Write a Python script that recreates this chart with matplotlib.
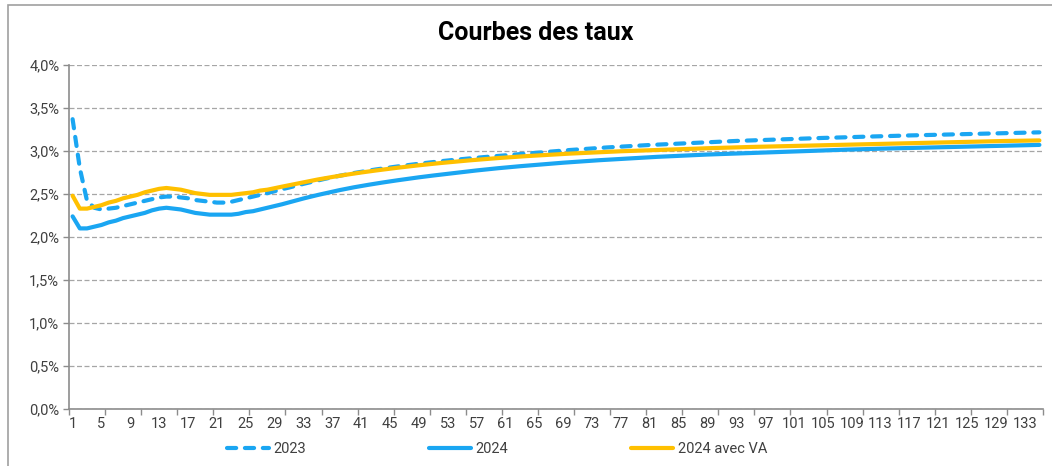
import matplotlib
matplotlib.use("Agg")
import matplotlib.pyplot as plt
from matplotlib.patches import Rectangle
from matplotlib.ticker import FuncFormatter, FixedLocator

plt.rcParams['font.family'] = ['Roboto', 'DejaVu Sans']

title = "Courbes des taux"
series_names = ["2023", "2024", "2024 avec VA"]

maturities = list(range(1, 136))

taux_2023 = [
    3.37, 2.80, 2.42, 2.34, 2.32, 2.33, 2.34, 2.36, 2.38, 2.40,
    2.42, 2.44, 2.46, 2.47, 2.47, 2.46, 2.45, 2.43, 2.42, 2.41,
    2.40, 2.40, 2.41, 2.43, 2.45, 2.47, 2.49, 2.51, 2.533, 2.555,
    2.575, 2.597, 2.618, 2.638, 2.658, 2.677, 2.695, 2.712, 2.728, 2.744,
    2.758, 2.772, 2.785, 2.797, 2.809, 2.820, 2.831, 2.842, 2.852, 2.862,
    2.872, 2.881, 2.890, 2.898, 2.906, 2.914, 2.921, 2.929, 2.936, 2.943,
    2.950, 2.957, 2.964, 2.971, 2.978, 2.985, 2.992, 2.999, 3.006, 3.012,
    3.018, 3.024, 3.030, 3.036, 3.041, 3.046, 3.051, 3.056, 3.061, 3.066,
    3.070, 3.074, 3.078, 3.082, 3.086, 3.090, 3.094, 3.098, 3.102, 3.106,
    3.110, 3.114, 3.117, 3.120, 3.123, 3.126, 3.129, 3.132, 3.135, 3.138,
    3.141, 3.144, 3.147, 3.149, 3.152, 3.154, 3.157, 3.159, 3.162, 3.164,
    3.167, 3.169, 3.172, 3.174, 3.176, 3.179, 3.181, 3.183, 3.185, 3.187,
    3.189, 3.191, 3.193, 3.195, 3.197, 3.199, 3.201, 3.203, 3.205, 3.207,
    3.209, 3.211, 3.213, 3.215, 3.217,
]

taux_2024 = [
    2.24, 2.10, 2.10, 2.12, 2.14, 2.17, 2.19, 2.22, 2.24, 2.26,
    2.28, 2.31, 2.33, 2.34, 2.33, 2.32, 2.30, 2.28, 2.27, 2.26,
    2.26, 2.26, 2.26, 2.27, 2.29, 2.30, 2.32, 2.34, 2.36, 2.380,
    2.403, 2.426, 2.448, 2.469, 2.489, 2.508, 2.527, 2.545, 2.562, 2.578,
    2.593, 2.607, 2.621, 2.634, 2.647, 2.659, 2.671, 2.683, 2.694, 2.705,
    2.715, 2.725, 2.735, 2.745, 2.755, 2.765, 2.774, 2.783, 2.792, 2.800,
    2.808, 2.816, 2.823, 2.830, 2.837, 2.844, 2.851, 2.858, 2.864, 2.870,
    2.876, 2.882, 2.888, 2.893, 2.898, 2.903, 2.908, 2.913, 2.918, 2.923,
    2.928, 2.932, 2.936, 2.940, 2.944, 2.948, 2.952, 2.956, 2.959, 2.962,
    2.965, 2.968, 2.971, 2.974, 2.977, 2.980, 2.983, 2.986, 2.989, 2.992,
    2.995, 2.998, 3.001, 3.004, 3.007, 3.010, 3.012, 3.015, 3.017, 3.020,
    3.022, 3.025, 3.027, 3.029, 3.031, 3.033, 3.035, 3.037, 3.039, 3.041,
    3.043, 3.045, 3.047, 3.049, 3.051, 3.053, 3.055, 3.057, 3.059, 3.061,
    3.063, 3.065, 3.067, 3.069, 3.071,
]

taux_2024_va = [
    2.48, 2.33, 2.33, 2.35, 2.37, 2.40, 2.42, 2.45, 2.47, 2.49,
    2.52, 2.54, 2.56, 2.57, 2.56, 2.55, 2.53, 2.51, 2.50, 2.49,
    2.49, 2.49, 2.49, 2.50, 2.51, 2.52, 2.54, 2.55, 2.568, 2.585,
    2.602, 2.620, 2.637, 2.653, 2.669, 2.684, 2.698, 2.712, 2.725, 2.738,
    2.750, 2.762, 2.773, 2.784, 2.795, 2.805, 2.815, 2.825, 2.834, 2.843,
    2.852, 2.860, 2.868, 2.876, 2.884, 2.891, 2.898, 2.905, 2.912, 2.918,
    2.924, 2.930, 2.936, 2.941, 2.946, 2.951, 2.956, 2.961, 2.966, 2.970,
    2.974, 2.978, 2.982, 2.986, 2.990, 2.994, 2.997, 3.000, 3.003, 3.006,
    3.009, 3.012, 3.015, 3.018, 3.021, 3.024, 3.027, 3.030, 3.032, 3.035,
    3.037, 3.040, 3.042, 3.045, 3.047, 3.049, 3.051, 3.053, 3.055, 3.057,
    3.059, 3.061, 3.063, 3.065, 3.067, 3.069, 3.071, 3.073, 3.075, 3.077,
    3.079, 3.081, 3.083, 3.085, 3.087, 3.089, 3.091, 3.093, 3.095, 3.097,
    3.099, 3.101, 3.103, 3.105, 3.107, 3.109, 3.111, 3.113, 3.114, 3.116,
    3.117, 3.119, 3.120, 3.122, 3.123,
]

y_ticks = [0.0, 0.5, 1.0, 1.5, 2.0, 2.5, 3.0, 3.5, 4.0]
x_label_step = 4

BLUE = "#1AA6F2"
GOLD = "#FFC000"
GRID = "#A6A6A6"
AXIS = "#8C8C8C"
TXT = "#404040"

W, H = 1052, 466
fig = plt.figure(figsize=(W / 100, H / 100), dpi=100)
ax = fig.add_axes([69 / W, 1 - 409 / H, (1043 - 69) / W, (409 - 65) / H])

# chart border
fig.add_artist(Rectangle((8 / W, -0.1), 1.2, 1 - 5 / H + 0.1, transform=fig.transFigure,
                         fill=False, edgecolor="#A0A0A0", linewidth=1.2))

lw = 3.0
l1, = ax.plot(maturities, taux_2023, color=BLUE, lw=lw, dashes=(2.2, 2.1),
              dash_capstyle='round', solid_joinstyle='round', label=series_names[0], zorder=3)
l2, = ax.plot(maturities, taux_2024, color=BLUE, lw=lw, solid_capstyle='round',
              solid_joinstyle='round', label=series_names[1], zorder=3)
l3, = ax.plot(maturities, taux_2024_va, color=GOLD, lw=lw, solid_capstyle='round',
              solid_joinstyle='round', label=series_names[2], zorder=4)

ax.set_xlim(0.5, len(maturities) + 0.5)
ax.set_ylim(0, 4.0)
ax.set_yticks(y_ticks)
ax.yaxis.set_major_formatter(FuncFormatter(lambda v, p: f"{v:.1f}%".replace(".", ",")))
ax.grid(axis='y', color=GRID, linestyle=(0, (4, 2)), linewidth=0.9, zorder=0)
ax.set_axisbelow(True)

# x: tick marks at category boundaries every 5, labels every 4
ax.xaxis.set_major_locator(FixedLocator([0.5 + 5 * i for i in range(28)]))
ax.xaxis.set_major_formatter(FuncFormatter(lambda v, p: ""))
ax.xaxis.set_minor_locator(FixedLocator(maturities[::x_label_step]))
ax.xaxis.set_minor_formatter(FuncFormatter(lambda v, p: f"{int(round(v))}"))
ax.tick_params(axis='x', which='major', length=4, width=1, color=AXIS, direction='out')
ax.tick_params(axis='x', which='minor', length=0, labelsize=10.5, labelcolor=TXT, pad=6)
ax.tick_params(axis='y', length=4, width=1, color=AXIS, labelsize=10.5, labelcolor=TXT, pad=3)

for s in ['top', 'right']:
    ax.spines[s].set_visible(False)
for s in ['left', 'bottom']:
    ax.spines[s].set_color(AXIS)
    ax.spines[s].set_linewidth(1.2)

fig.text(536 / W, 1 - 33 / H, title, ha='center', va='center', fontsize=18,
         fontweight='bold', color='black')

fig.legend(handles=[l1, l2, l3], loc='center', bbox_to_anchor=(497 / W, 1 - 449 / H),
           ncol=3, frameon=False, fontsize=10.5, handlelength=2.9, handletextpad=0.3,
           columnspacing=8.4, labelcolor=TXT, borderpad=0.2)

fig.savefig("out.png", dpi=100)
